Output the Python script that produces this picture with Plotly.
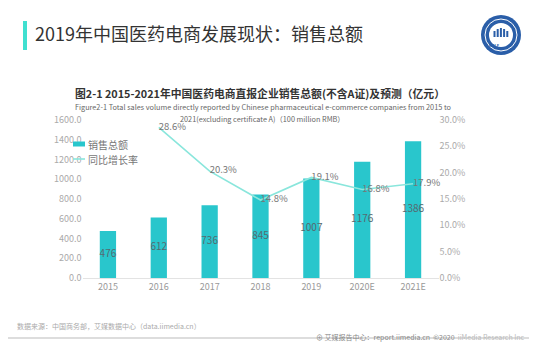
import plotly.graph_objects as go

years = ["2015", "2016", "2017", "2018", "2019", "2020E", "2021E"]
sales = [476, 612, 736, 845, 1007, 1176, 1386]
growth_years = ["2016", "2017", "2018", "2019", "2020E", "2021E"]
growth = [28.6, 20.3, 14.8, 19.1, 16.8, 17.9]

W, H = 540, 358
FONT = "Noto Sans CJK SC"
BAR = "#29c6cc"
LINE = "#8ae6dc"
LOGO = "#2a5ea8"

def px(x):
    return x / W

def py(y):
    return 1 - y / H

fig = go.Figure()
fig.add_trace(go.Bar(
    x=years, y=sales, name="销售总额", width=0.32,
    marker=dict(color=BAR, line=dict(width=0)),
    yaxis="y", showlegend=False, hoverinfo="x+y",
))
# value labels in the middle of each bar
fig.add_trace(go.Scatter(
    x=years, y=[v / 2 for v in sales], mode="text",
    text=[str(v) for v in sales], textposition="middle center",
    textfont=dict(color="#556a70", size=10, family=FONT),
    yaxis="y", showlegend=False, hoverinfo="skip",
))
fig.add_trace(go.Scatter(
    x=growth_years, y=growth, name="同比增长率", mode="lines+text",
    line=dict(color=LINE, width=1.6),
    text=[f"{v:.1f}%" for v in growth], textposition="middle right",
    textfont=dict(color="#777777", size=9.5, family=FONT),
    yaxis="y2", cliponaxis=False, showlegend=False,
))

fig.update_layout(
    width=W, height=H,
    margin=dict(l=0, r=0, t=0, b=0),
    paper_bgcolor="white", plot_bgcolor="white",
    font=dict(family=FONT, color="#999999"),
    showlegend=False,
    bargap=0.68,
    xaxis=dict(domain=[px(74.5), px(430.5)], showgrid=False, showline=True,
               linecolor="#e3e3e3", linewidth=1, ticks="", automargin=False,
               tickfont=dict(size=9, color="#999999"), type="category"),
    yaxis=dict(domain=[py(270), py(112)], range=[0, 1600], dtick=200, tickformat=".1f",
               showgrid=False, zeroline=False, showline=False, automargin=False,
               tickfont=dict(size=9, color="#aaaaaa")),
    yaxis2=dict(overlaying="y", side="right", range=[0, 30], dtick=5, tickformat=".1f",
                ticksuffix="%", showgrid=False, zeroline=False, showline=False,
                automargin=False, tickfont=dict(size=9, color="#aaaaaa"), anchor="x"),
)

# Manual legend
fig.add_shape(type="rect", xref="paper", yref="paper",
              x0=px(65), x1=px(77), y0=py(138.5), y1=py(133.5),
              fillcolor=BAR, line=dict(width=0))
fig.add_shape(type="line", xref="paper", yref="paper",
              x0=px(65), x1=px(77), y0=py(151), y1=py(151),
              line=dict(color=LINE, width=1.6))
fig.add_annotation(x=px(78), y=py(136), xref="paper", yref="paper", xanchor="left",
                   showarrow=False, text="销售总额",
                   font=dict(size=10, color="#777777", family=FONT))
fig.add_annotation(x=px(78), y=py(151), xref="paper", yref="paper", xanchor="left",
                   showarrow=False, text="同比增长率",
                   font=dict(size=10, color="#777777", family=FONT))

# Header accent bar and title
fig.add_shape(type="rect", xref="paper", yref="paper",
              x0=px(15), x1=px(19), y0=py(42), y1=py(13),
              fillcolor="#40e0d0", line=dict(width=0))
fig.add_annotation(x=px(25), y=py(25), xref="paper", yref="paper", xanchor="left",
                   yanchor="middle", showarrow=False,
                   text="2019年中国医药电商发展现状：销售总额",
                   font=dict(size=18, color="#333333", family=FONT))
# Logo
fig.add_shape(type="circle", xref="paper", yref="paper",
              x0=px(473), x1=px(513), y0=py(47), y1=py(7),
              fillcolor=LOGO, line=dict(width=0))
fig.add_shape(type="circle", xref="paper", yref="paper",
              x0=px(477), x1=px(509), y0=py(43), y1=py(11),
              fillcolor=LOGO, line=dict(color="#ffffff", width=1))
fig.add_shape(type="circle", xref="paper", yref="paper",
              x0=px(481), x1=px(505), y0=py(39), y1=py(15),
              fillcolor="#ffffff", line=dict(width=0))
for i, hgt in enumerate([6, 8, 9, 8, 6]):
    x0 = 485.5 + i * 3.2
    fig.add_shape(type="rect", xref="paper", yref="paper",
                  x0=px(x0), x1=px(x0 + 2), y0=py(29), y1=py(29 - hgt),
                  fillcolor=LOGO, line=dict(width=0))
fig.add_annotation(x=px(493), y=py(33), xref="paper", yref="paper", showarrow=False,
                   text="<b>NELF</b>", font=dict(size=4, color=LOGO, family=FONT),
                   borderpad=0)

# Chart title
fig.add_annotation(x=px(251.5), y=py(75), xref="paper", yref="paper", showarrow=False,
                   text="<b>图2-1 2015-2021年中国医药电商直报企业销售总额(不含A证)及预测（亿元）</b>",
                   font=dict(size=10.8, color="#333333", family=FONT))
fig.add_annotation(x=px(255), y=py(91.5), xref="paper", yref="paper", showarrow=False,
                   text="Figure2-1 Total sales volume directly reported by Chinese pharmaceutical e-commerce companies from 2015 to",
                   font=dict(size=7.3, color="#666666", family=FONT))
fig.add_annotation(x=px(254), y=py(105), xref="paper", yref="paper", showarrow=False,
                   text="2021(excluding certificate A)（100 million RMB）",
                   font=dict(size=7.3, color="#666666", family=FONT), borderpad=0)

# Footer
fig.add_annotation(x=px(7), y=py(325), xref="paper", yref="paper", xanchor="left",
                   showarrow=False,
                   text="数据来源：中国商务部，艾媒数据中心（data.iimedia.cn）",
                   font=dict(size=7, color="#aaaaaa", family=FONT))
fig.add_shape(type="line", xref="paper", yref="paper", x0=0, x1=px(521),
              y0=py(330), y1=py(330), line=dict(color="#bbbbbb", width=1.2))
fig.add_annotation(x=px(519), y=py(336), xref="paper", yref="paper", xanchor="right",
                   showarrow=False,
                   text="⊕ 艾媒报告中心：report.iimedia.cn  ©2020  <span style='color:#bbbbbb'>iiMedia Research Inc</span>",
                   font=dict(size=7, color="#888888", family=FONT))

fig.write_html("out.html")
